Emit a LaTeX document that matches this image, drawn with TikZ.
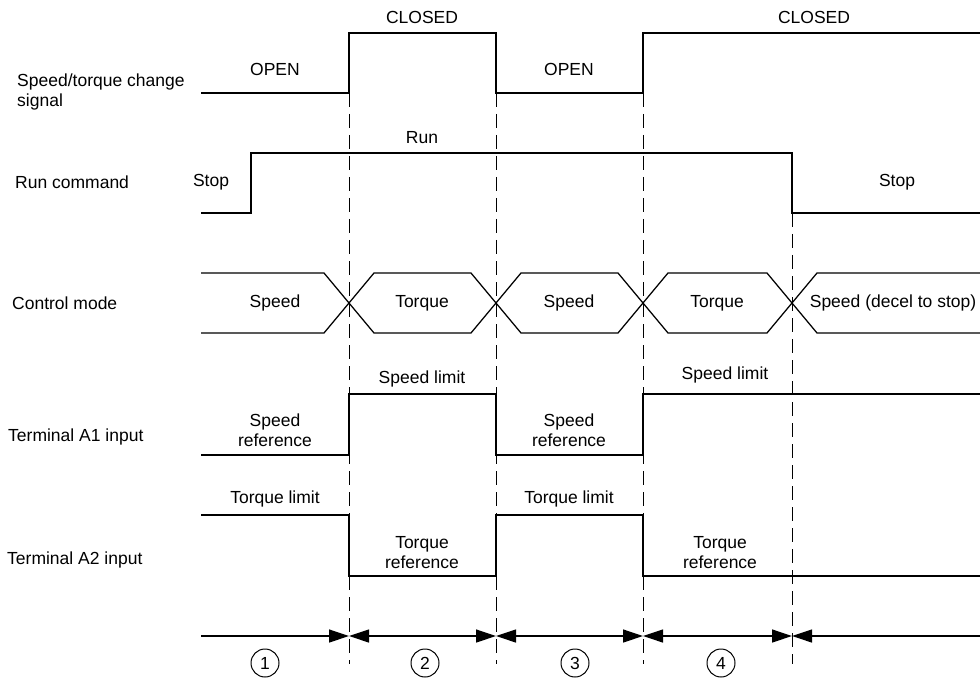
\documentclass[tikz,border=0pt]{standalone}
\usepackage{fontspec}
\setmainfont{Liberation Sans}
\usetikzlibrary{arrows.meta}
\begin{document}
\begin{tikzpicture}[x=1pt,y=-1pt,
  sig/.style={line width=1.25pt, line join=miter},
  guide/.style={line width=1pt, dash pattern=on 14pt off 7pt},
  lbl/.style={font=\fontsize{17.5}{20}\selectfont, inner sep=0pt, align=center},
  side/.style={lbl, anchor=west, align=left},
  num/.style={draw, circle, line width=1pt, minimum size=28pt, inner sep=0pt, font=\fontsize{17.5}{20}\selectfont},
  tip/.style={-{Triangle[length=20pt,width=13pt]}},
  bitip/.style={{Triangle[length=20pt,width=13pt]}-{Triangle[length=20pt,width=13pt]}},
  lefttip/.style={{Triangle[length=20pt,width=13pt]}-}]
\useasboundingbox (0,0) rectangle (980,679);

% guide coordinates
\coordinate (g1t) at (349,93);  \coordinate (g1b) at (349,664);
\coordinate (g2t) at (496,93);  \coordinate (g2b) at (496,664);
\coordinate (g3t) at (643,93);  \coordinate (g3b) at (643,664);
\coordinate (g4t) at (792,213); \coordinate (g4b) at (792,664);

\draw[guide] (g1t) -- (g1b);
\draw[guide] (g2t) -- (g2b);
\draw[guide] (g3t) -- (g3b);
\draw[guide] (g4t) -- (g4b);

% side labels
\node[side] (l1) at (17,92) {Speed/torque change\\signal};
\node[side] (l2) at (15,182) {Run command};
\node[side] (l3) at (12,303) {Control mode};
\node[side] (l4) at (8,437) {Terminal A1 input};
\node[side] (l5) at (7,560) {Terminal A2 input};

% speed/torque change signal
\draw[sig] (201,93) -- (349,93) -- (349,33) -- (496,33) -- (496,93) -- (643,93) -- (643,33) -- (980,33);
\node[lbl] (o1) at (275,69) {OPEN};
\node[lbl] (c1) at (422,17) {CLOSED};
\node[lbl] (o2) at (569,69) {OPEN};
\node[lbl] (c2) at (814,17) {CLOSED};

% run command
\draw[sig] (201,213) -- (251,213) -- (251,153) -- (792,153) -- (792,213) -- (980,213);
\node[lbl] (run) at (422,138) {Run};
\node[lbl] (st1) at (211,182) {Stop};
\node[lbl] (st2) at (897,182) {Stop};

% control mode
\draw[sig] (201,273) -- (324,273) -- (374,333) -- (471,333) -- (521,273) -- (618,273) -- (668,333) -- (767,333) -- (817,273) -- (980,273);
\draw[sig] (201,333) -- (324,333) -- (374,273) -- (471,273) -- (521,333) -- (618,333) -- (668,273) -- (767,273) -- (817,333) -- (980,333);
\node[lbl] (m1) at (275,303) {Speed};
\node[lbl] (m2) at (422,303) {Torque};
\node[lbl] (m3) at (569,303) {Speed};
\node[lbl] (m4) at (717,303) {Torque};
\node[lbl] (m5) at (893,303) {Speed (decel to stop)};

% terminal A1
\draw[sig] (201,455) -- (349,455) -- (349,394) -- (496,394) -- (496,455) -- (643,455) -- (643,394) -- (980,394);
\node[lbl] (a1) at (422,379) {Speed limit};
\node[lbl] (a2) at (275,430) {Speed\\reference};
\node[lbl] (a3) at (569,430) {Speed\\reference};
\node[lbl] (a4) at (725,375) {Speed limit};

% terminal A2
\draw[sig] (201,515) -- (349,515) -- (349,576) -- (496,576) -- (496,515) -- (643,515) -- (643,576) -- (980,576);
\node[lbl] (b1) at (275,499) {Torque limit};
\node[lbl] (b2) at (422,553) {Torque\\reference};
\node[lbl] (b3) at (569,499) {Torque limit};
\node[lbl] (b4) at (720,553) {Torque\\reference};

% interval arrows
\coordinate (p0) at (201,636);
\coordinate (p1) at (349,636);
\coordinate (p2) at (496,636);
\coordinate (p3) at (643,636);
\coordinate (p4) at (792,636);
\coordinate (p5) at (980,636);
\draw[sig, tip] (p0) -- (p1);
\draw[sig, bitip] (p1) -- (p2);
\draw[sig, bitip] (p2) -- (p3);
\draw[sig, bitip] (p3) -- (p4);
\draw[sig, lefttip] (p4) -- (p5);

\node[num] (n1) at (265,663) {1};
\node[num] (n2) at (425,663) {2};
\node[num] (n3) at (575,663) {3};
\node[num] (n4) at (721,663) {4};
\end{tikzpicture}
\end{document}
